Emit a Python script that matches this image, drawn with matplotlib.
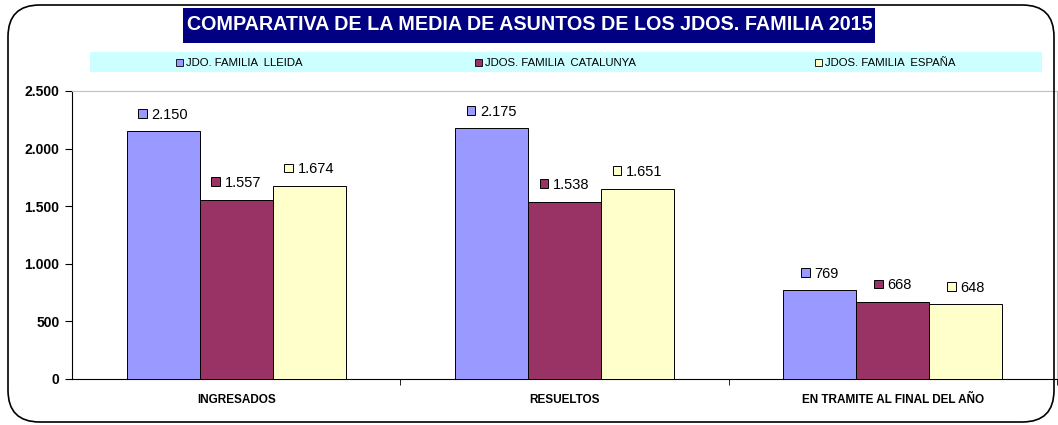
import matplotlib
matplotlib.use('Agg')
import matplotlib.pyplot as plt
import matplotlib.patches as mpatches
from matplotlib.offsetbox import AnnotationBbox, DrawingArea, HPacker, TextArea
import numpy as np

categories = ['INGRESADOS', 'RESUELTOS', 'EN TRAMITE AL FINAL DEL AÑO']
series_names = ['JDO. FAMILIA  LLEIDA', 'JDOS. FAMILIA  CATALUNYA', 'JDOS. FAMILIA  ESPAÑA']
lleida = [2150, 2175, 769]
catalunya = [1557, 1538, 668]
espana = [1674, 1651, 648]
y_ticks = [0, 500, 1000, 1500, 2000, 2500]

colors = ['#9999FF', '#993366', '#FFFFCC']
title = 'COMPARATIVA DE LA MEDIA DE ASUNTOS DE LOS JDOS. FAMILIA 2015'

plt.rcParams['font.family'] = ['Liberation Sans', 'DejaVu Sans']


def fmt(v):
  return f'{v:,}'.replace(',', '.')


W, H = 1058, 425
fig = plt.figure(figsize=(W / 100, H / 100), dpi=100)
fig.patch.set_facecolor('white')

# rounded outer frame
frame = mpatches.FancyBboxPatch(
  (8 / W, 3 / H), 1046 / W, 417 / H,
  boxstyle='round,pad=0,rounding_size=0.03',
  transform=fig.transFigure, facecolor='none', edgecolor='black', linewidth=1.2,
  mutation_aspect=W / H, zorder=5,
)
fig.patches.append(frame)

# title box
fig.patches.append(mpatches.Rectangle(
  (183 / W, 1 - 43 / H), 692 / W, 35 / H,
  transform=fig.transFigure, facecolor='#000080', edgecolor='none'))
fig.text(530 / W, 1 - 25 / H, title, color='white', fontsize=14.2, fontweight='bold',
         ha='center', va='center')

# legend band
fig.patches.append(mpatches.Rectangle(
  (90 / W, 1 - 72 / H), 952 / W, 20 / H,
  transform=fig.transFigure, facecolor='#CCFFFF', edgecolor='none'))
legend_x = [176, 475, 815]
for name, c, lx in zip(series_names, colors, legend_x):
  fig.patches.append(mpatches.Rectangle(
    (lx / W, 1 - 66 / H), 7 / W, 7 / H,
    transform=fig.transFigure, facecolor=c, edgecolor='black', linewidth=0.6))
  fig.text((lx + 10) / W, 1 - 62.5 / H, name, fontsize=8.2, ha='left', va='center')

ax = fig.add_axes([72 / W, 1 - 379 / H, 985 / W, 288 / H])

x = np.arange(len(categories))
bw = 0.222
all_series = [lleida, catalunya, espana]
for i, (vals, c) in enumerate(zip(all_series, colors)):
  xs = x + (i - 1) * bw
  ax.bar(xs, vals, width=bw, color=c, edgecolor='black', linewidth=0.7, zorder=3)
  for xi, v in zip(xs, vals):
    da = DrawingArea(6.5, 7, 0, 0)
    da.add_artist(mpatches.Rectangle((0, 0.8), 6.2, 6.2, facecolor=c, edgecolor='black', linewidth=0.7))
    ta = TextArea(fmt(v), textprops=dict(fontsize=10.5))
    box = HPacker(children=[da, ta], pad=0, sep=3, align='baseline')
    ab = AnnotationBbox(box, (xi, v), xybox=(0, 12), xycoords='data',
                        boxcoords='offset points', frameon=False, box_alignment=(0.5, 0.5))
    ax.add_artist(ab)

ax.set_xlim(-0.5, 2.5)
ax.set_ylim(0, 2500)
ax.set_yticks(y_ticks, [fmt(t) for t in y_ticks])
ax.set_xticks(x, categories)
ax.set_xticks([0.5, 1.5, 2.5], minor=True)
ax.tick_params(axis='x', which='major', length=0, pad=11)
ax.tick_params(axis='x', which='minor', length=4, direction='out')
ax.tick_params(axis='y', length=5, direction='out', pad=4)
for lab in ax.get_yticklabels():
  lab.set_fontweight('bold')
  lab.set_fontsize(10)
for lab in ax.get_xticklabels():
  lab.set_fontweight('bold')
  lab.set_fontsize(8.5)
  lab.set_family(['Liberation Sans Narrow', 'Liberation Sans', 'DejaVu Sans'])

ax.spines['top'].set_color('#C0C0C0')
ax.spines['right'].set_color('#C0C0C0')
ax.spines['left'].set_color('black')
ax.spines['bottom'].set_color('black')
ax.set_facecolor('white')

fig.savefig('out.png', dpi=100)
